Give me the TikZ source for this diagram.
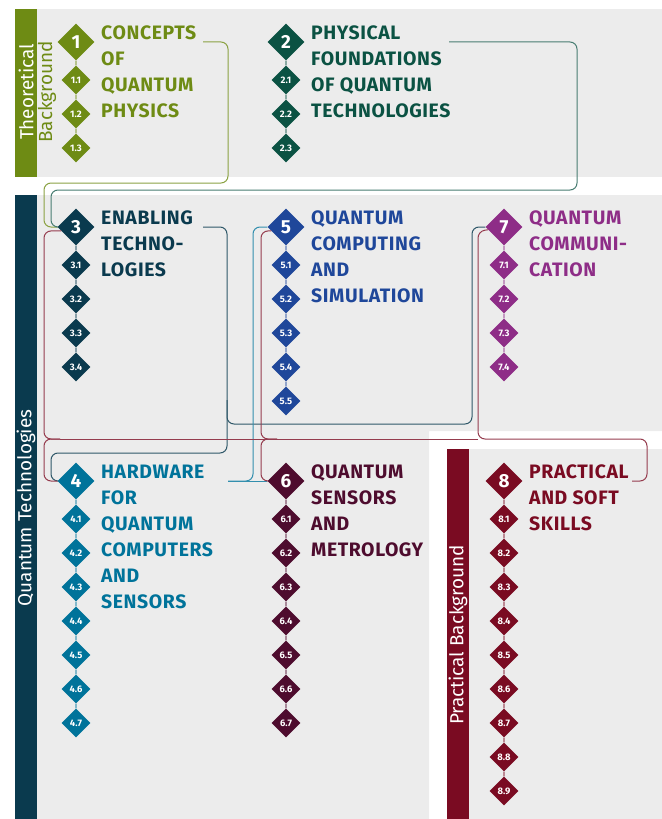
\documentclass[tikz,border=0pt]{standalone}
\usepackage{fontspec}
\setmainfont{Fira Sans}
\newfontfamily\titlefont{Fira Sans}[LetterSpace=3]
\usetikzlibrary{shapes.geometric}

\definecolor{panel}{HTML}{ECECEC}
\definecolor{olivec}{HTML}{6E8B14}
\definecolor{pinec}{HTML}{0B5243}
\definecolor{navyc}{HTML}{0A3A4E}
\definecolor{tealc}{HTML}{00739A}
\definecolor{royalc}{HTML}{1F479A}
\definecolor{plumc}{HTML}{4E0C2E}
\definecolor{purplec}{HTML}{8E2D87}
\definecolor{maroonc}{HTML}{7A0B22}

\tikzset{
  bigd/.style={diamond, aspect=1, fill=#1, text=white, minimum size=37bp,
    inner sep=0pt, font=\fontsize{19}{19}\selectfont\bfseries},
  smalld/.style={diamond, aspect=1, fill=#1, text=white, minimum size=29bp,
    inner sep=0pt, font=\fontsize{9.5}{10}\selectfont\bfseries},
  sect/.style={every child node/.style={smalld=#1},
    edge from parent/.style={draw=#1!70, line width=1.2bp},
    grow=down, level 1/.style={level distance=38bp},
    level 2/.style={level distance=34bp}},
  title/.style={text=#1, anchor=base west, align=left, inner sep=0pt,
    font=\fontsize{19.5}{26}\titlefont\bfseries},
  link/.style={draw=#1, line width=1bp, rounded corners=7bp},
  side/.style={rotate=90, text=#1, inner sep=0pt, font=\fontsize{19}{19}\selectfont}
}

\begin{document}
\begin{tikzpicture}[x=1bp, y=-1bp]
  \useasboundingbox (0,0) rectangle (662,819);

  % panels
  \fill[panel] (15,9) rectangle (662,177);
  \fill[olivec] (15,9) rectangle (37,177);
  \fill[panel] (37,195) -- (662,195) -- (662,431) -- (429,431) -- (429,819) -- (37,819) -- cycle;
  \fill[navyc] (15,195) rectangle (37,819);
  \fill[panel] (469,449) rectangle (662,819);
  \fill[maroonc] (447,449) rectangle (469,819);

  \node[side=white] (lth) at (26,92) {Theoretical};
  \node[side=olivec] (lbg) at (47,92) {Background};
  \node[side=white] (lqt) at (26,508) {Quantum Technologies};
  \node[side=white] (lpb) at (458,635) {Practical Background};

  % theoretical background
  \begin{scope}[sect=olivec]
    \node[bigd=olivec] (d1) at (76,42) {1}
      child {node {1.1} child {node {1.2} child {node {1.3}}}};
  \end{scope}
  \begin{scope}[sect=pinec]
    \node[bigd=pinec] (d2) at (286,42) {2}
      child {node {2.1} child {node {2.2} child {node {2.3}}}};
  \end{scope}

  % quantum technologies
  \begin{scope}[sect=navyc]
    \node[bigd=navyc] (d3) at (76,227) {3}
      child {node {3.1} child {node {3.2} child {node {3.3} child {node {3.4}}}}};
  \end{scope}
  \begin{scope}[sect=royalc]
    \node[bigd=royalc] (d5) at (286,227) {5}
      child {node {5.1} child {node {5.2} child {node {5.3} child {node {5.4}
        child {node {5.5}}}}}};
  \end{scope}
  \begin{scope}[sect=purplec]
    \node[bigd=purplec] (d7) at (504,227) {7}
      child {node {7.1} child {node {7.2} child {node {7.3} child {node {7.4}}}}};
  \end{scope}
  \begin{scope}[sect=tealc]
    \node[bigd=tealc] (d4) at (76,481) {4}
      child {node {4.1} child {node {4.2} child {node {4.3} child {node {4.4}
        child {node {4.5} child {node {4.6} child {node {4.7}}}}}}}};
  \end{scope}
  \begin{scope}[sect=plumc]
    \node[bigd=plumc] (d6) at (286,481) {6}
      child {node {6.1} child {node {6.2} child {node {6.3} child {node {6.4}
        child {node {6.5} child {node {6.6} child {node {6.7}}}}}}}};
  \end{scope}

  % practical background
  \begin{scope}[sect=maroonc]
    \node[bigd=maroonc] (d8) at (504,481) {8}
      child {node {8.1} child {node {8.2} child {node {8.3} child {node {8.4}
        child {node {8.5} child {node {8.6} child {node {8.7} child {node {8.8}
        child {node {8.9}}}}}}}}}};
  \end{scope}

  % titles (base = last line)
  \node[title=olivec] (t1) at (101,117.5) {CONCEPTS\\OF\\QUANTUM\\PHYSICS};
  \node[title=pinec] (t2) at (311,117.5) {PHYSICAL\\FOUNDATIONS\\OF QUANTUM\\TECHNOLOGIES};
  \node[title=navyc] (t3) at (101,276.5) {ENABLING\\TECHNO-\\LOGIES};
  \node[title=royalc] (t5) at (311,302.5) {QUANTUM\\COMPUTING\\AND\\SIMULATION};
  \node[title=purplec] (t7) at (529,276.5) {QUANTUM\\COMMUNI-\\CATION};
  \node[title=tealc] (t4) at (101,608.5) {HARDWARE\\FOR\\QUANTUM\\COMPUTERS\\AND\\SENSORS};
  \node[title=plumc] (t6) at (311,556.5) {QUANTUM\\SENSORS\\AND\\METROLOGY};
  \node[title=maroonc] (t8) at (529,530.5) {PRACTICAL\\AND SOFT\\SKILLS};

  % connectors
  \coordinate (o1) at (203,42);
  \coordinate (o2) at (449,42);
  \coordinate (o3) at (203,227);
  \coordinate (o4) at (228,481);
  \coordinate (o8) at (632,481);

  \draw[link=olivec!80] (o1) -- (228,42) -- (228,183) -- (44,183) -- (44,227) -- (d3.west);
  \draw[link=pinec!75] (o2) -- (577,42) -- (577,190) -- (51,190) -- (51,227) -- (d3.west);

  \draw[link=navyc!85] (o3) -- (227,227) -- (227,453) -- (51,453) -- (51,481) -- (d4.west);
  \draw[link=navyc!85] (227,400) -- (227,424) -- (472,424) -- (472,227) -- (d7.west);

  \draw[link=tealc!80] (o4) -- (d6.west);
  \draw[link=tealc!80] (o4) -- (253,481) -- (253,227) -- (d5.west);

  \draw[link=maroonc!80] (o8) -- (647,481) -- (647,439) -- (478,439) -- (478,231) -- (d7.-170);
  \draw[link=maroonc!80] (478,439) -- (60,439);
  \draw[link=maroonc!80] (d3.-165) -| (44,439) -- (60,439);
  \draw[link=maroonc!80] (60,439) -- (44,439) -- (44,481) -- (d4.west);
  \draw[link=maroonc!80] (d5.-165) -| (261,439) -- (277,439);
  \draw[link=maroonc!80] (277,439) -- (261,439) -- (261,481) -- (d6.west);
\end{tikzpicture}
\end{document}
